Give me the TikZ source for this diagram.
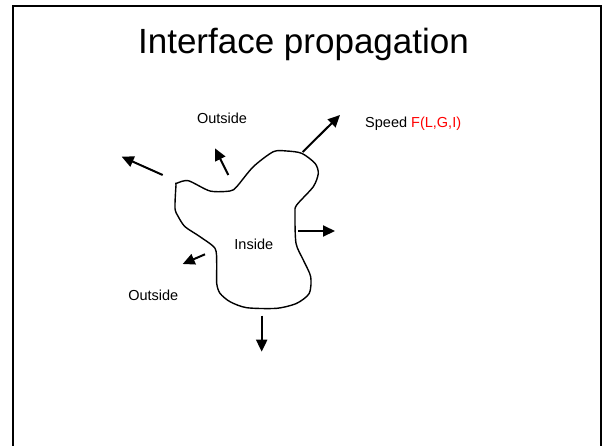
\documentclass[tikz,border=0pt]{standalone}
\usepackage{fontspec}
\setmainfont{Liberation Sans}
\usepackage{xcolor}
\usetikzlibrary{arrows.meta}

\begin{document}
\begin{tikzpicture}[x=1pt, y=-1pt,
  every node/.style={font=\fontsize{14.5}{17}\selectfont, inner sep=0pt},
  normal/.style={line width=2pt, -{Triangle[length=12pt,width=11pt]}},
  front/.style={line width=1.4pt, line join=round}]
\useasboundingbox (0,0) rectangle (602,445);
% slide frame, open at the bottom
\draw[line width=2.5pt] (13,460) -- (13,6) -- (601,6) -- (601,460);
\node (title) [anchor=base, font=\fontsize{35}{40}\selectfont] at (303.5,53) {Interface propagation};

% the interface
\draw[front] plot[smooth cycle, tension=0.45] coordinates {
  (176.7,183.3) (188.3,180.7) (210,191) (230,191) (236.7,186.7)
  (253.3,166.7) (273.3,151.7) (286.7,151) (301.7,153.3) (315,163.3)
  (318.3,173.3) (313.3,186.7) (296.7,205) (295,213.3) (296,243.3)
  (303.3,260) (310.7,276.7) (309.3,293.3) (296.7,303.3) (276.7,308.3)
  (246.7,307.7) (230,301.7) (220,293.3) (216.7,283.3) (216.7,263.3)
  (215,248.3) (200,236.7) (185,226.7) (178.3,216.7) (175,208.3)
  (176,185)};

% normals
\coordinate (a0) at (162.7,175);   \coordinate (a1) at (121.7,156.7);
\coordinate (b0) at (228.3,175);   \coordinate (b1) at (215,148.3);
\coordinate (c0) at (302.7,152);   \coordinate (c1) at (340,115);
\coordinate (d0) at (298.3,231);   \coordinate (d1) at (335,231);
\coordinate (e0) at (205,254.3);   \coordinate (e1) at (182.7,264);
\coordinate (f0) at (261.7,315.7); \coordinate (f1) at (261.7,351.7);
\draw[normal] (a0) -- (a1);
\draw[normal] (b0) -- (b1);
\draw[normal] (c0) -- (c1);
\draw[normal] (d0) -- (d1);
\draw[normal] (e0) -- (e1);
\draw[normal] (f0) -- (f1);

\node (outtop) [anchor=base] at (222,123) {Outside};
\node (outbot) [anchor=base] at (153.3,300.7) {Outside};
\node (inside) [anchor=base] at (253.8,249.3) {Inside};
\node (speed) [anchor=base west] at (365,127.7) {Speed \textcolor{red}{F(L,G,I)}};
\end{tikzpicture}
\end{document}
